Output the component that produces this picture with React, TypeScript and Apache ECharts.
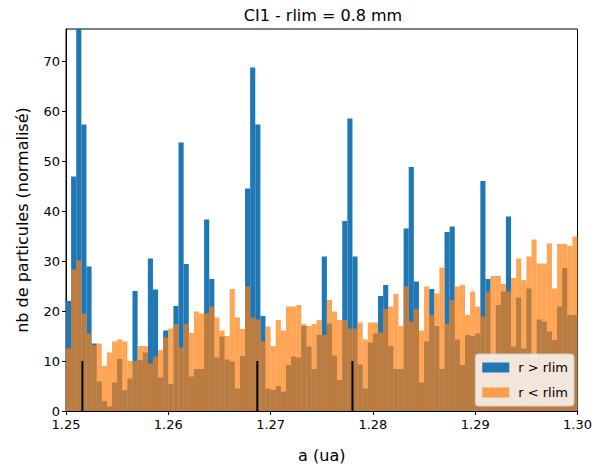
import React, { useEffect, useRef } from "react";
import * as echarts from "echarts";

// 100 bins from 1.25 to 1.30 (width 0.0005)
const binStart = 1.25;
const binWidth = 0.0005;
const binCount = 100;

const blueValues = [
  22.0, 46.9, 78.0, 57.3, 28.9, 13.5, 5.9, 2.0, 0.9, 5.7,
  10.4, 4.2, 6.5, 24.0, 10.2, 11.7, 30.5, 24.3, 6.7, 16.1,
  5.4, 21.0, 53.7, 29.4, 6.9, 8.4, 8.4, 38.3, 26.4, 10.7,
  14.9, 10.3, 9.9, 4.5, 11.0, 44.5, 68.7, 57.3, 19.0, 4.5,
  4.2, 5.0, 3.9, 9.2, 10.9, 10.7, 17.0, 12.9, 8.4, 15.2,
  30.9, 17.5, 11.1, 6.2, 38.0, 58.5, 30.9, 9.3, 4.5, 13.7,
  15.5, 23.0, 25.2, 13.0, 8.4, 8.4, 36.5, 48.8, 25.9, 5.7,
  13.9, 24.4, 17.0, 8.4, 35.8, 36.9, 14.3, 9.2, 15.2, 15.0,
  15.5, 46.0, 26.4, 10.9, 21.2, 23.9, 38.9, 12.9, 22.7, 12.5,
  24.5, 10.9, 18.3, 17.9, 15.9, 14.2, 20.9, 28.6, 19.2, 19.2,
];

const orangeValues = [
  12.5, 28.3, 30.1, 19.5, 15.5, 13.2, 13.5, 9.0, 11.7, 13.9,
  14.3, 13.9, 10.0, 10.0, 13.0, 13.0, 9.5, 10.9, 12.2, 14.7,
  16.5, 17.4, 12.7, 17.4, 15.6, 19.9, 19.5, 19.5, 20.9, 18.7,
  16.1, 15.0, 24.4, 18.7, 16.4, 24.9, 18.7, 18.3, 13.9, 16.9,
  13.0, 18.2, 16.1, 20.9, 20.9, 21.2, 17.4, 17.0, 17.4, 18.2,
  15.2, 22.2, 19.9, 18.2, 18.2, 16.5, 16.5, 17.7, 14.3, 17.7,
  17.7, 15.7, 20.4, 20.9, 23.4, 17.0, 24.9, 17.9, 20.4, 16.1,
  24.9, 19.2, 23.5, 28.7, 17.4, 22.2, 24.9, 25.2, 19.2, 23.9,
  20.9, 18.9, 23.9, 27.0, 27.0, 25.4, 23.9, 26.6, 30.5, 26.2,
  30.9, 34.3, 29.5, 29.5, 33.5, 24.5, 33.4, 33.4, 33.0, 34.9,
];

// vertical black markers (position in a, height)
const markerPositions = [1.2516, 1.2687, 1.278];
const markerHeight = 10;

const yTicks = [0, 10, 20, 30, 40, 50, 60, 70];
const xTicks = [1.25, 1.26, 1.27, 1.28, 1.29, 1.3];

const seriesNames = ["r > rlim", "r < rlim"];
const titleText = "CI1 - rlim = 0.8 mm";
const xLabel = "a (ua)";
const yLabel = "nb de particules (normalisé)";

const categories = Array.from({ length: binCount }, (_, i) =>
  (binStart + (i + 0.5) * binWidth).toFixed(5)
);

const FONT = "DejaVu Sans";

export default function App() {
  const ref = useRef<HTMLDivElement>(null);
  useEffect(() => {
    if (!ref.current) return;
    const chart = echarts.init(ref.current, null, { renderer: "svg" });
    const gridLeft = 66;
    const gridRight = 15;
    const gridTop = 29;
    const gridBottom = 57;
    const plotCenter = gridLeft + (595 - gridLeft - gridRight) / 2;

    const markerSeries = markerPositions.map((x) => ({
      type: "line",
      xAxisIndex: 1,
      yAxisIndex: 0,
      data: [
        [x, 0],
        [x, markerHeight],
      ],
      symbol: "none",
      silent: true,
      z: 10,
      lineStyle: { color: "#000", width: 2 },
    }));

    chart.setOption({
      animation: false,
      textStyle: { fontFamily: FONT },
      graphic: [
        {
          type: "text",
          x: plotCenter,
          y: 15,
          style: {
            text: titleText,
            fill: "#000",
            font: `16px '${FONT}'`,
            textAlign: "center",
            textVerticalAlign: "middle",
          },
        },
      ],
      grid: {
        left: gridLeft,
        right: gridRight,
        top: gridTop,
        bottom: gridBottom,
        show: true,
        borderColor: "#000",
        borderWidth: 1,
        backgroundColor: "transparent",
        containLabel: false,
      },
      legend: {
        data: seriesNames,
        orient: "vertical",
        right: 21,
        bottom: 62,
        itemWidth: 27,
        itemHeight: 10,
        itemGap: 12,
        icon: "rect",
        backgroundColor: "rgba(255,255,255,0.8)",
        borderColor: "#cccccc",
        borderWidth: 1,
        borderRadius: 3,
        padding: [7, 6, 7, 7],
        textStyle: { fontFamily: FONT, fontSize: 13, color: "#000", padding: [0, 0, 0, 4] },
      },
      xAxis: [
        {
          type: "category",
          data: categories,
          show: false,
          boundaryGap: true,
        },
        {
          type: "value",
          min: 1.25,
          max: 1.3,
          interval: 0.01,
          position: "bottom",
          name: xLabel,
          nameLocation: "middle",
          nameGap: 36,
          nameTextStyle: { fontFamily: FONT, fontSize: 16, color: "#000" },
          axisLine: { show: true, lineStyle: { color: "#000", width: 1 } },
          axisTick: {
            show: true,
            length: 4,
            lineStyle: { color: "#000" },
            customValues: xTicks,
          },
          axisLabel: {
            color: "#000",
            fontSize: 13,
            fontFamily: FONT,
            margin: 7,
            customValues: xTicks,
            formatter: (v: number) => v.toFixed(2),
          },
          splitLine: { show: false },
        },
      ],
      yAxis: {
        type: "value",
        min: 0,
        max: 76.4,
        interval: 10,
        name: yLabel,
        nameLocation: "middle",
        nameGap: 36,
        nameTextStyle: { fontFamily: FONT, fontSize: 16, color: "#000" },
        axisLine: { show: true, lineStyle: { color: "#000", width: 1 } },
        axisTick: {
          show: true,
          length: 4,
          lineStyle: { color: "#000" },
          customValues: yTicks,
        },
        axisLabel: {
          color: "#000",
          fontSize: 13,
          fontFamily: FONT,
          margin: 6,
          customValues: yTicks,
        },
        splitLine: { show: false },
      },
      series: [
        {
          name: seriesNames[0],
          type: "bar",
          xAxisIndex: 0,
          yAxisIndex: 0,
          data: blueValues,
          barWidth: "100%",
          barGap: "-100%",
          barCategoryGap: "0%",
          clip: true,
          itemStyle: { color: "#1f77b4" },
        },
        {
          name: seriesNames[1],
          type: "bar",
          xAxisIndex: 0,
          yAxisIndex: 0,
          data: orangeValues,
          barWidth: "100%",
          barGap: "-100%",
          barCategoryGap: "0%",
          clip: true,
          itemStyle: { color: "#ff7f0e", opacity: 0.7 },
        },
        ...markerSeries,
      ],
    });
    return () => chart.dispose();
  }, []);
  return (
    <div
      ref={ref}
      style={{ position: "fixed", left: 0, top: 0, width: 595, height: 468, background: "#fff" }}
    />
  );
}
